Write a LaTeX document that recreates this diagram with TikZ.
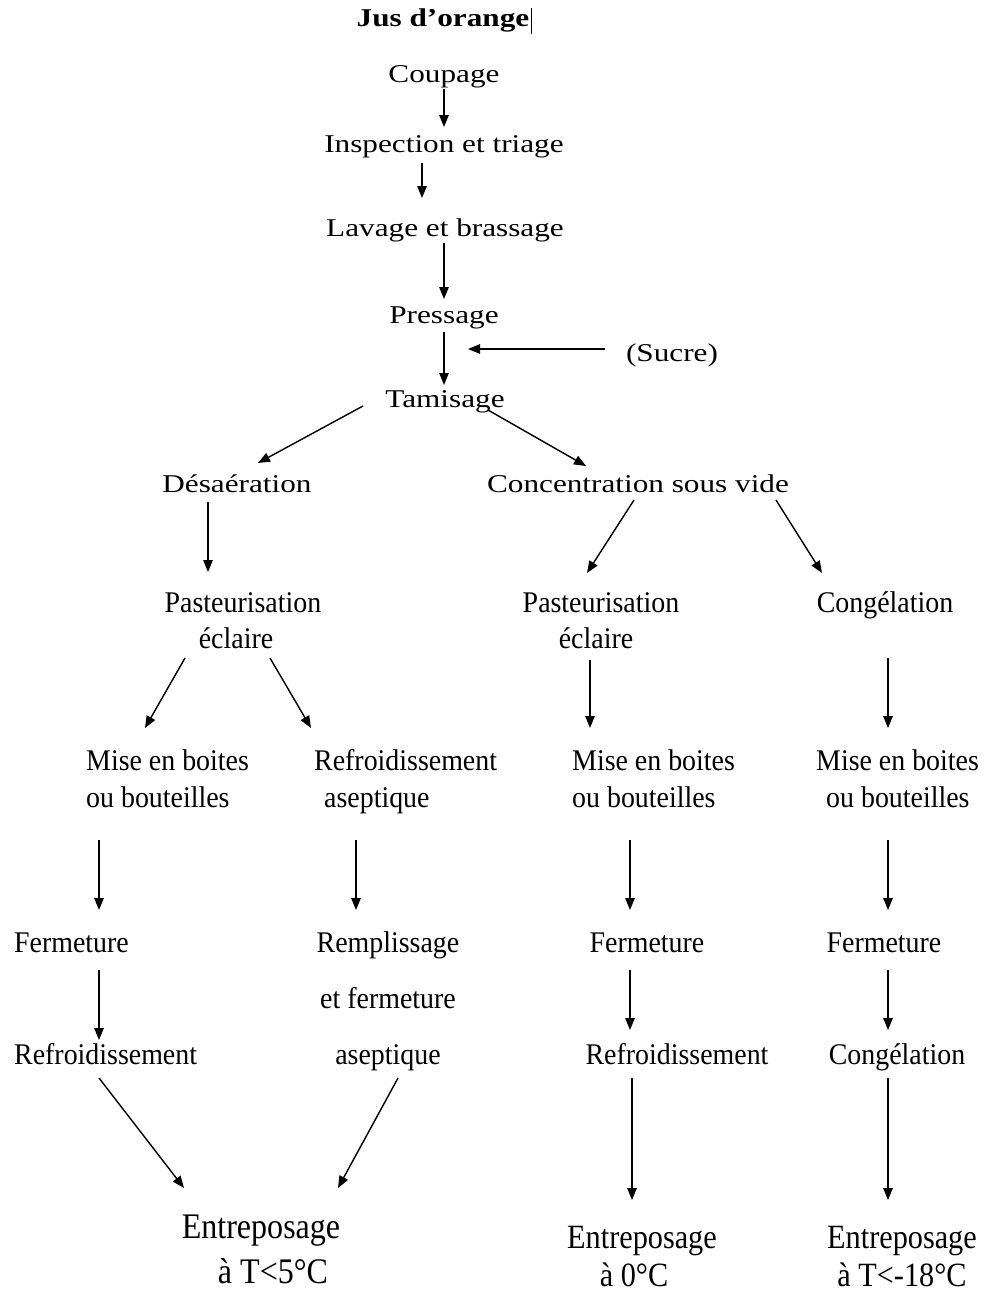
\documentclass[tikz,border=0pt]{standalone}
\usepackage{fontspec}
\setmainfont{Liberation Serif}
\newfontfamily\widefont[FakeStretch=1.22]{Liberation Serif}
\newfontfamily\narrowfont[FakeStretch=0.93]{Liberation Serif}
\newfontfamily\entfont[FakeStretch=0.89]{Liberation Serif}
\usetikzlibrary{arrows.meta}
\begin{document}
\begin{tikzpicture}[x=1pt,y=-1pt,
  arr/.style={-{Triangle[length=12pt,width=9.5pt]}, line width=1.4pt},
  tw/.style={font=\widefont\fontsize{25.6}{30}\selectfont, inner sep=0pt, anchor=base},
  twb/.style={font=\widefont\bfseries\fontsize{25.6}{30}\selectfont, inner sep=0pt, anchor=base},
  tn/.style={font=\narrowfont\fontsize{30}{36}\selectfont, inner sep=0pt, anchor=base},
  tnl/.style={tn, anchor=base west},
  tel/.style={font=\entfont\fontsize{36}{42}\selectfont, inner sep=0pt, anchor=base},
  ter/.style={font=\entfont\fontsize{34}{40}\selectfont, inner sep=0pt, anchor=base}]
\useasboundingbox (0,0) rectangle (986,1291);
% top, wide text
\node[twb] (jus) at (443,26) {Jus d’orange};
\draw[line width=0.8pt] (531,8) -- (531,34);
\node[tw] (coup) at (444,82) {Coupage};
\node[tw] (insp) at (444,152) {Inspection et triage};
\node[tw] (lav) at (445,236) {Lavage et brassage};
\node[tw] (press) at (444,323) {Pressage};
\node[tw] (sucre) at (672,361) {(Sucre)};
\node[tw] (tam) at (445,407) {Tamisage};
\node[tw] (des) at (237,492) {Désaération};
\node[tw] (conc) at (638,492) {Concentration sous vide};
% normal text
\node[tn] (pastLa) at (243,612) {Pasteurisation};
\node[tn] (pastLb) at (236,648) {éclaire};
\node[tn] (pastRa) at (601,612) {Pasteurisation};
\node[tn] (pastRb) at (596,648) {éclaire};
\node[tn] (cong) at (885,612) {Congélation};
\node[tnl] (miseLa) at (86,770) {Mise en boites};
\node[tnl] (miseLb) at (86,807) {ou bouteilles};
\node[tnl] (refa) at (314,770) {Refroidissement};
\node[tnl] (refb) at (324,807) {aseptique};
\node[tnl] (miseRa) at (572,770) {Mise en boites};
\node[tnl] (miseRb) at (572,807) {ou bouteilles};
\node[tnl] (miseRRa) at (816,770) {Mise en boites};
\node[tnl] (miseRRb) at (826,807) {ou bouteilles};
\node[tnl] (fermL) at (14,952) {Fermeture};
\node[tn] (rema) at (388,952) {Remplissage};
\node[tn] (remb) at (388,1008) {et fermeture};
\node[tn] (remc) at (388,1064) {aseptique};
\node[tn] (fermR) at (647,952) {Fermeture};
\node[tn] (fermRR) at (884,952) {Fermeture};
\node[tnl] (refrL) at (14,1064) {Refroidissement};
\node[tn] (refrR) at (677,1064) {Refroidissement};
\node[tn] (cong2) at (897,1064) {Congélation};
\node[tel] (entLa) at (261,1238) {Entreposage};
\node[tel] (entLb) at (273,1283) {à T<5°C};
\node[ter] (entMa) at (642,1248) {Entreposage};
\node[ter] (entMb) at (634,1286) {à 0°C};
\node[ter] (entRa) at (902,1248) {Entreposage};
\node[ter] (entRb) at (902,1286) {à T<-18°C};
% arrow end points
\foreach \n/\p in {a1s/{444,89}, a1e/{444,127}, a2s/{422,163}, a2e/{422,198},
  a3s/{444,243}, a3e/{444,299}, a4s/{444,332}, a4e/{444,385},
  a5s/{605,349}, a5e/{468,349}, a6s/{363,406}, a6e/{258,463},
  a7s/{488,410}, a7e/{586,466}, a8s/{208,502}, a8e/{208,572},
  a9s/{634,500}, a9e/{587,573}, a10s/{776,500}, a10e/{822,573},
  a11s/{185,658}, a11e/{145,728}, a12s/{270,658}, a12e/{311,728},
  a13s/{590,660}, a13e/{590,728}, a14s/{888,658}, a14e/{888,728},
  a15s/{99,840}, a15e/{99,910}, a16s/{356,840}, a16e/{356,910},
  a17s/{630,840}, a17e/{630,910}, a18s/{888,840}, a18e/{888,910},
  a19s/{99,970}, a19e/{99,1040}, a20s/{630,970}, a20e/{630,1030},
  a21s/{888,970}, a21e/{888,1030}, a22s/{99,1078}, a22e/{184,1188},
  a23s/{398,1078}, a23e/{338,1188}, a24s/{632,1078}, a24e/{632,1200},
  a25s/{888,1078}, a25e/{888,1200}}
  \coordinate (\n) at (\p);
\foreach \i in {1,...,25}
  \draw[arr] (a\i s) -- (a\i e);
\end{tikzpicture}
\end{document}
